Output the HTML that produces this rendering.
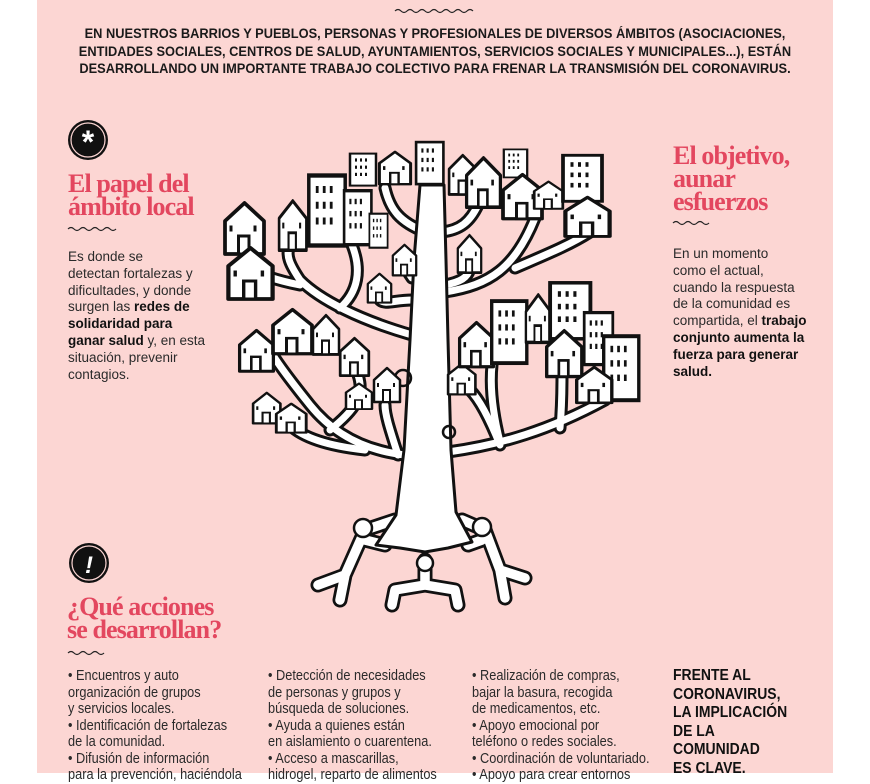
<!DOCTYPE html>
<html><head><meta charset="utf-8">
<style>
*{margin:0;padding:0;box-sizing:border-box}
body{width:870px;height:773px;background:#fff;position:relative;overflow:hidden;font-family:"Liberation Sans",sans-serif;color:#1a1a1a}
#pink{position:absolute;left:37px;top:0;width:796px;height:773px;background:#fcd6d3}
.a{position:absolute;white-space:nowrap}
.top{left:0;width:870px;top:25px;text-align:center;font-size:13.5px;line-height:17.5px;font-weight:bold;transform:scaleX(0.95);transform-origin:435px 0}
.ttl{font-family:"Liberation Serif",serif;font-weight:bold;color:#e3475f;font-size:26px;line-height:23px;letter-spacing:-0.9px}
.p{font-size:13.5px;line-height:16.8px;color:#2a2a2a}
.p b{color:#111}
.col{font-size:14.5px;line-height:16.5px;color:#2a2a2a;transform:scaleX(0.88);transform-origin:0 0}
.bold{font-weight:bold;font-size:15.5px;line-height:18.5px;color:#111;transform:scaleX(0.9);transform-origin:0 0}
</style></head><body>
<div id="pink"></div>
<svg class="a" style="left:0;top:0" width="870" height="773" viewBox="0 0 870 773">
<defs>
<g id="h"><path d="M2,14 L15,2 L28,14 L28,36 L2,36 Z" fill="#fff" stroke="#111" stroke-width="2.5" stroke-linejoin="round"/><rect x="11" y="24" width="7" height="12" fill="#fff" stroke="#111" stroke-width="2"/><rect x="5" y="17" width="2" height="4" fill="#111"/><rect x="21" y="17" width="2" height="4" fill="#111"/></g>
<g id="b"><rect x="2" y="2" width="26" height="40" fill="#fff" stroke="#111" stroke-width="2.5"/><g fill="#111"><rect x="7" y="8" width="2" height="4"/><rect x="12" y="8" width="2" height="4"/><rect x="17" y="8" width="2" height="4"/><rect x="7" y="17" width="2" height="4"/><rect x="12" y="17" width="2" height="4"/><rect x="17" y="17" width="2" height="4"/><rect x="7" y="26" width="2" height="4"/><rect x="12" y="26" width="2" height="4"/><rect x="17" y="26" width="2" height="4"/></g></g>
</defs>
<g fill="none" stroke="#222" stroke-width="1.2">
<path d="M395,11 q3,-3 6,0 t6,0 t6,0 t6,0 t6,0 t6,0 t6,0 t6,0 t6,0 t6,0 t6,0 t6,0 t6,0"/>
<path d="M68,229 q3,-3 6,0 t6,0 t6,0 t6,0 t6,0 t6,0 t6,0 t6,0"/>
<path d="M673,223 q3,-3 6,0 t6,0 t6,0 t6,0 t6,0 t6,0"/>
<path d="M68,653 q3,-3 6,0 t6,0 t6,0 t6,0 t6,0 t6,0"/>
</g>
<circle cx="88" cy="140" r="20" fill="#111"/><circle cx="88" cy="140" r="17" fill="none" stroke="#fcd6d3" stroke-width="1.2"/>
<text x="88" y="153" text-anchor="middle" fill="#fff" font-family="Liberation Sans" font-weight="bold" font-size="32">*</text>
<circle cx="89" cy="563" r="20" fill="#111"/><circle cx="89" cy="563" r="17" fill="none" stroke="#fcd6d3" stroke-width="1.2"/>
<text x="89" y="573" text-anchor="middle" fill="#fff" font-family="Liberation Sans" font-weight="bold" font-style="italic" font-size="24">!</text>
<g fill="none" stroke-linecap="round">
<g stroke="#111" stroke-width="13">
<path d="M412,335 C360,320 320,300 300,280 C290,265 285,255 290,245"/>
<path d="M300,285 C275,280 262,275 248,268"/>
<path d="M340,308 C358,292 362,270 352,245"/>
<path d="M425,232 C400,222 390,210 385,188"/>
<path d="M412,300 C395,300 385,305 380,300"/><path d="M412,278 L408,272"/>
<path d="M445,292 C490,285 515,268 535,218"/>
<path d="M515,268 C545,255 570,245 590,232"/>
<path d="M445,285 C460,282 468,278 470,268"/>
<path d="M442,232 C460,230 470,222 478,205"/>
<path d="M405,455 C360,450 330,430 310,405 C290,380 275,360 270,350"/>
<path d="M330,430 C355,410 365,395 358,375"/>
<path d="M398,455 C390,430 385,415 385,405"/>
<path d="M365,450 C320,445 300,435 290,425"/>
<path d="M448,452 C500,445 550,430 605,400"/>
<path d="M500,445 C490,420 480,400 470,390"/>
<path d="M500,442 C492,410 490,385 492,365"/>
<path d="M560,428 C562,405 562,388 562,375"/>
</g>
<g stroke="#fff" stroke-width="7">
<path d="M412,335 C360,320 320,300 300,280 C290,265 285,255 290,245"/>
<path d="M300,285 C275,280 262,275 248,268"/>
<path d="M340,308 C358,292 362,270 352,245"/>
<path d="M425,232 C400,222 390,210 385,188"/>
<path d="M412,300 C395,300 385,305 380,300"/><path d="M412,278 L408,272"/>
<path d="M445,292 C490,285 515,268 535,218"/>
<path d="M515,268 C545,255 570,245 590,232"/>
<path d="M445,285 C460,282 468,278 470,268"/>
<path d="M442,232 C460,230 470,222 478,205"/>
<path d="M405,455 C360,450 330,430 310,405 C290,380 275,360 270,350"/>
<path d="M330,430 C355,410 365,395 358,375"/>
<path d="M398,455 C390,430 385,415 385,405"/>
<path d="M365,450 C320,445 300,435 290,425"/>
<path d="M448,452 C500,445 550,430 605,400"/>
<path d="M500,445 C490,420 480,400 470,390"/>
<path d="M500,442 C492,410 490,385 492,365"/>
<path d="M560,428 C562,405 562,388 562,375"/>
</g>
</g>
<g fill="none" stroke-linecap="round" stroke-linejoin="round">
<g stroke="#111" stroke-width="15">
<path d="M395,520 L365,530 L345,575 L318,585 M345,575 L340,600 M365,540 L385,545"/>
<path d="M462,520 L485,530 L500,570 L525,578 M500,570 L505,598 M482,540 L468,545"/>
<path d="M425,560 L425,585 L395,590 L392,605 M425,585 L455,590 L458,605"/>
</g>
<g stroke="#fff" stroke-width="9.5">
<path d="M395,520 L365,530 L345,575 L318,585 M345,575 L340,600 M365,540 L385,545"/>
<path d="M462,520 L485,530 L500,570 L525,578 M500,570 L505,598 M482,540 L468,545"/>
<path d="M425,560 L425,585 L395,590 L392,605 M425,585 L455,590 L458,605"/>
</g>
</g>
<circle cx="363" cy="528" r="9" fill="#fff" stroke="#111" stroke-width="2.5"/>
<circle cx="482" cy="527" r="9" fill="#fff" stroke="#111" stroke-width="2.5"/>
<circle cx="425" cy="563" r="8" fill="#fff" stroke="#111" stroke-width="2.5"/>
<path d="M420,185 L414,260 L410,340 L404,450 L396,515 L376,545 L400,548 L425,552 L448,548 L472,542 L456,512 L451,450 L448,340 L446,260 L444,185 Z" fill="#fff" stroke="#111" stroke-width="3" stroke-linejoin="round"/>
<circle cx="403" cy="378" r="8" fill="none" stroke="#111" stroke-width="2.5"/>
<circle cx="449" cy="432" r="6" fill="none" stroke="#111" stroke-width="2.5"/>
<use href="#h" transform="translate(222,200) scale(1.5)"/>
<use href="#h" transform="translate(225,245) scale(1.7,1.5)"/>
<use href="#h" transform="translate(277,198) scale(1.05,1.45)"/>
<use href="#b" transform="translate(306,172) scale(1.4,1.75)"/>
<use href="#b" transform="translate(342,188) scale(1.05,1.35)"/>
<use href="#b" transform="translate(368,212) scale(0.7,0.85)"/>
<use href="#b" transform="translate(348,152) scale(1,0.8)"/>
<use href="#h" transform="translate(377,150) scale(1.2,0.95)"/>
<use href="#b" transform="translate(414,140) scale(1.05,1.05)"/>
<use href="#h" transform="translate(447,153) scale(1.05,1.15)"/>
<use href="#h" transform="translate(464,155) scale(1.3,1.45)"/>
<use href="#b" transform="translate(502,148) scale(0.9,0.7)"/>
<use href="#h" transform="translate(500,172) scale(1.5,1.3)"/>
<use href="#h" transform="translate(532,180) scale(1.1,0.8)"/>
<use href="#b" transform="translate(560,153) scale(1.5,1.15)"/>
<use href="#h" transform="translate(562,195) scale(1.7,1.15)"/>
<use href="#h" transform="translate(456,233) scale(0.9,1.1)"/>
<use href="#h" transform="translate(391,243) scale(0.9,0.9)"/>
<use href="#h" transform="translate(366,272) scale(0.9,0.85)"/>
<use href="#h" transform="translate(237,328) scale(1.3,1.2)"/>
<use href="#h" transform="translate(270,307) scale(1.5,1.3)"/>
<use href="#h" transform="translate(311,313) scale(1,1.15)"/>
<use href="#h" transform="translate(338,336) scale(1.1,1.1)"/>
<use href="#h" transform="translate(344,382) scale(1,0.75)"/>
<use href="#h" transform="translate(372,366) scale(1,1)"/>
<use href="#h" transform="translate(251,391) scale(1.05,0.9)"/>
<use href="#h" transform="translate(274,402) scale(1.15,0.85)"/>
<use href="#h" transform="translate(446,362) scale(1.05,0.9)"/>
<use href="#h" transform="translate(457,320) scale(1.3,1.3)"/>
<use href="#b" transform="translate(489,298) scale(1.35,1.55)"/>
<use href="#h" transform="translate(524,292) scale(0.95,1.4)"/>
<use href="#b" transform="translate(547,280) scale(1.55,1.4)"/>
<use href="#b" transform="translate(582,310) scale(1.1,1.3)"/>
<use href="#h" transform="translate(544,328) scale(1.35,1.35)"/>
<use href="#b" transform="translate(601,333) scale(1.35,1.6)"/>
<use href="#h" transform="translate(574,365) scale(1.35,1.05)"/>
</svg>

<div class="a top">EN NUESTROS BARRIOS Y PUEBLOS, PERSONAS Y PROFESIONALES DE DIVERSOS ÁMBITOS (ASOCIACIONES,<br>ENTIDADES SOCIALES, CENTROS DE SALUD, AYUNTAMIENTOS, SERVICIOS SOCIALES Y MUNICIPALES...), ESTÁN<br>DESARROLLANDO UN IMPORTANTE TRABAJO COLECTIVO PARA FRENAR LA TRANSMISIÓN DEL CORONAVIRUS.</div>

<div class="a ttl" style="left:68px;top:172px">El papel del<br>ámbito local</div>
<div class="a p" style="left:68px;top:249px">Es donde se<br>detectan fortalezas y<br>dificultades, y donde<br>surgen las <b>redes de</b><br><b>solidaridad para</b><br><b>ganar salud</b> y, en esta<br>situación, prevenir<br>contagios.</div>

<div class="a ttl" style="left:673px;top:144px">El objetivo,<br>aunar<br>esfuerzos</div>
<div class="a p" style="left:673px;top:246px">En un momento<br>como el actual,<br>cuando la respuesta<br>de la comunidad es<br>compartida, el <b>trabajo</b><br><b>conjunto aumenta la</b><br><b>fuerza para generar</b><br><b>salud.</b></div>

<div class="a ttl" style="left:67px;top:595px">¿Qué acciones<br>se desarrollan?</div>

<div class="a col" style="left:68px;top:668px">• Encuentros y auto<br>organización de grupos<br>y servicios locales.<br>• Identificación de fortalezas<br>de la comunidad.<br>• Difusión de información<br>para la prevención, haciéndola</div>
<div class="a col" style="left:268px;top:668px">• Detección de necesidades<br>de personas y grupos y<br>búsqueda de soluciones.<br>• Ayuda a quienes están<br>en aislamiento o cuarentena.<br>• Acceso a mascarillas,<br>hidrogel, reparto de alimentos</div>
<div class="a col" style="left:472px;top:668px">• Realización de compras,<br>bajar la basura, recogida<br>de medicamentos, etc.<br>• Apoyo emocional por<br>teléfono o redes sociales.<br>• Coordinación de voluntariado.<br>• Apoyo para crear entornos</div>
<div class="a bold" style="left:673px;top:667px">FRENTE AL<br>CORONAVIRUS,<br>LA IMPLICACIÓN<br>DE LA<br>COMUNIDAD<br>ES CLAVE.</div>
</body></html>
